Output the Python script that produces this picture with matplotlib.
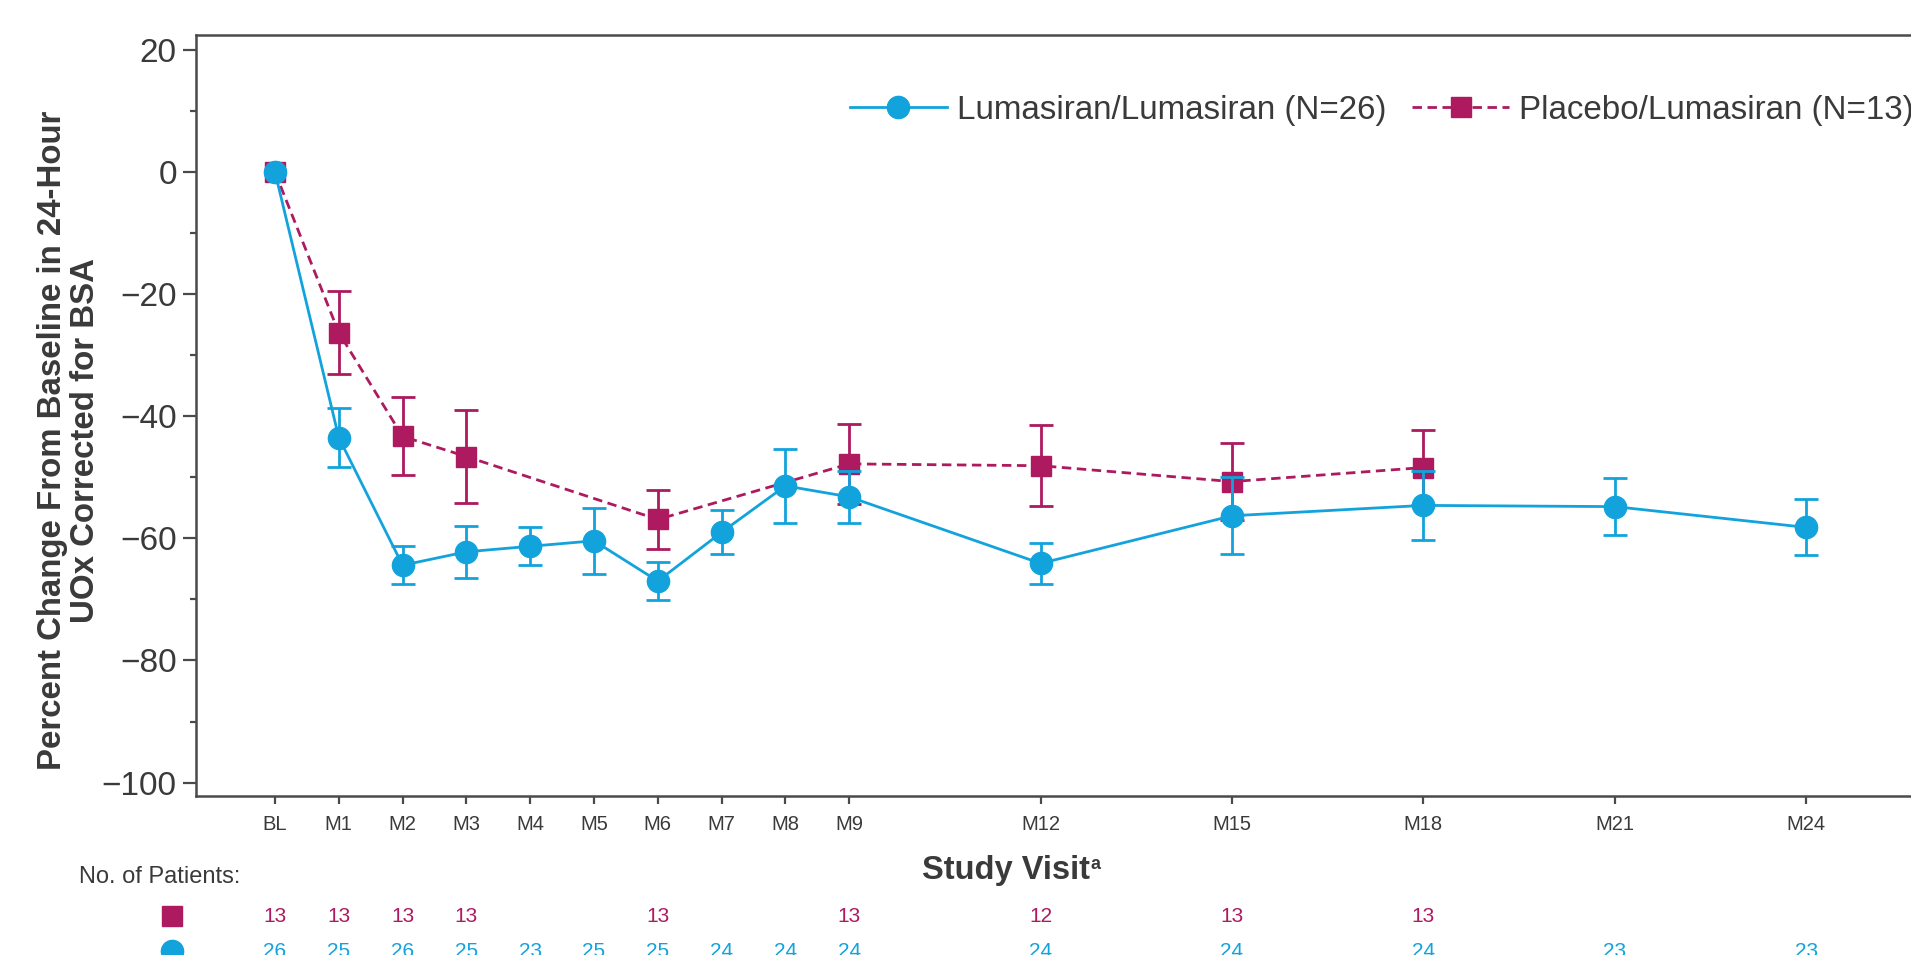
import matplotlib
matplotlib.use('Agg')
import matplotlib.pyplot as plt
from matplotlib.transforms import blended_transform_factory
from matplotlib.lines import Line2D

plt.rcParams['font.family'] = ['Liberation Sans', 'DejaVu Sans']

BLUE = '#12a3dc'
PURPLE = '#ad1a5f'
TXT = '#3a3a3a'
AXC = '#4a4a4a'

visit_labels = ['BL', 'M1', 'M2', 'M3', 'M4', 'M5', 'M6', 'M7', 'M8', 'M9',
                'M12', 'M15', 'M18', 'M21', 'M24']
visit_months = [0, 1, 2, 3, 4, 5, 6, 7, 8, 9, 12, 15, 18, 21, 24]

lum_months = [0, 1, 2, 3, 4, 5, 6, 7, 8, 9, 12, 15, 18, 21, 24]
lum_mean = [0.0, -43.5, -64.4, -62.2, -61.3, -60.4, -67.0, -59.0, -51.4,
            -53.2, -64.1, -56.3, -54.6, -54.8, -58.2]
lum_sem = [0.0, 4.8, 3.1, 4.3, 3.1, 5.4, 3.1, 3.6, 6.1, 4.3, 3.3, 6.3, 5.6,
           4.7, 4.6]
lum_n = [26, 25, 26, 25, 23, 25, 25, 24, 24, 24, 24, 24, 24, 23, 23]

pbo_months = [0, 1, 2, 3, 6, 9, 12, 15, 18]
pbo_mean = [0.0, -26.3, -43.3, -46.6, -56.9, -47.8, -48.1, -50.7, -48.4]
pbo_sem = [0.0, 6.8, 6.4, 7.6, 4.9, 6.6, 6.6, 6.3, 6.2]
pbo_n = [13, 13, 13, 13, 13, 13, 12, 13, 13]

lum_label = 'Lumasiran/Lumasiran (N=26)'
pbo_label = 'Placebo/Lumasiran (N=13)'

W, H = 1911, 955
fig = plt.figure(figsize=(W / 100, H / 100), dpi=100)
ax = fig.add_axes([195.7 / W, 1 - 796 / H, (1960 - 195.7) / W, (796 - 34.7) / H])

LW = 2.0
# placebo
ax.errorbar(pbo_months[1:], pbo_mean[1:], yerr=pbo_sem[1:], fmt='none',
            ecolor=PURPLE, elinewidth=LW, capsize=8.5, capthick=LW, zorder=2)
pbo_line, = ax.plot(pbo_months, pbo_mean, color=PURPLE, lw=LW,
                    ls=(0, (3.4, 2.0)), marker='s', ms=14.5, mfc=PURPLE,
                    mec=PURPLE, zorder=3)
# lumasiran
ax.errorbar(lum_months[1:], lum_mean[1:], yerr=lum_sem[1:], fmt='none',
            ecolor=BLUE, elinewidth=LW, capsize=8.5, capthick=LW, zorder=4)
lum_line, = ax.plot(lum_months, lum_mean, color=BLUE, lw=LW, ls='-',
                    marker='o', ms=16, mfc=BLUE, mec=BLUE, zorder=5)

ax.set_xlim(-1.243, 26.41)
ax.set_ylim(-102.2, 22.5)
ax.set_yticks([-100, -80, -60, -40, -20, 0, 20])
ax.set_yticks([-90, -70, -50, -30, -10, 10], minor=True)
ax.set_xticks(visit_months)
ax.set_xticklabels(visit_labels)

for s in ['left', 'bottom', 'top']:
    ax.spines[s].set_color(AXC)
    ax.spines[s].set_linewidth(1.8)
ax.spines['right'].set_visible(False)

ax.tick_params(axis='y', which='major', length=9.6, width=1.6, color=AXC,
               labelsize=24, labelcolor=TXT, pad=4)
ax.tick_params(axis='y', which='minor', length=4.6, width=1.6, color=AXC)
ax.tick_params(axis='x', which='major', length=6, width=1.6, color=AXC,
               labelsize=14.5, labelcolor=TXT, pad=8)

leg = ax.legend([lum_line, pbo_line], [lum_label, pbo_label],
                loc='center left', bbox_to_anchor=(850 / W, 1 - 110 / H),
                bbox_transform=fig.transFigure, ncol=2, frameon=False,
                fontsize=23.9, handlelength=2.92, handletextpad=0.3,
                columnspacing=0.78, borderpad=0, borderaxespad=0,
                labelcolor=TXT)

# y label
fig.text(69 / W, 1 - 440 / H,
         'Percent Change From Baseline in 24-Hour\nUOx Corrected for BSA',
         rotation=90, ha='center', va='center', fontsize=23.8,
         fontweight='bold', color=TXT, multialignment='center',
         linespacing=1.05)

# x label with superscript
xl = fig.text(922 / W, 1 - 870 / H, 'Study Visit', ha='left', va='center',
              fontsize=23.5, fontweight='bold', color=TXT)
ax.annotate('a', xy=(1, 1), xycoords=xl, xytext=(0.5, -1),
            textcoords='offset points', ha='left', va='top', fontsize=13,
            fontweight='bold', color=TXT)

# number of patients
fig.text(79 / W, 1 - 877 / H, 'No. of Patients:', ha='left', va='center',
         fontsize=17, color=TXT)
trans = blended_transform_factory(ax.transData, fig.transFigure)
y_pbo = 1 - 916 / H
y_lum = 1 - 951 / H
for m, n in zip(pbo_months, pbo_n):
    ax.text(m, y_pbo, str(n), transform=trans, ha='center', va='center',
            fontsize=15, color=PURPLE, clip_on=False)
for m, n in zip(lum_months, lum_n):
    ax.text(m, y_lum, str(n), transform=trans, ha='center', va='center',
            fontsize=15, color=BLUE, clip_on=False)
fig.add_artist(Line2D([172 / W], [y_pbo], transform=fig.transFigure,
                      marker='s', ms=14, color=PURPLE, ls='none'))
fig.add_artist(Line2D([172 / W], [y_lum], transform=fig.transFigure,
                      marker='o', ms=16, color=BLUE, ls='none'))

fig.savefig('out.png', dpi=100)
